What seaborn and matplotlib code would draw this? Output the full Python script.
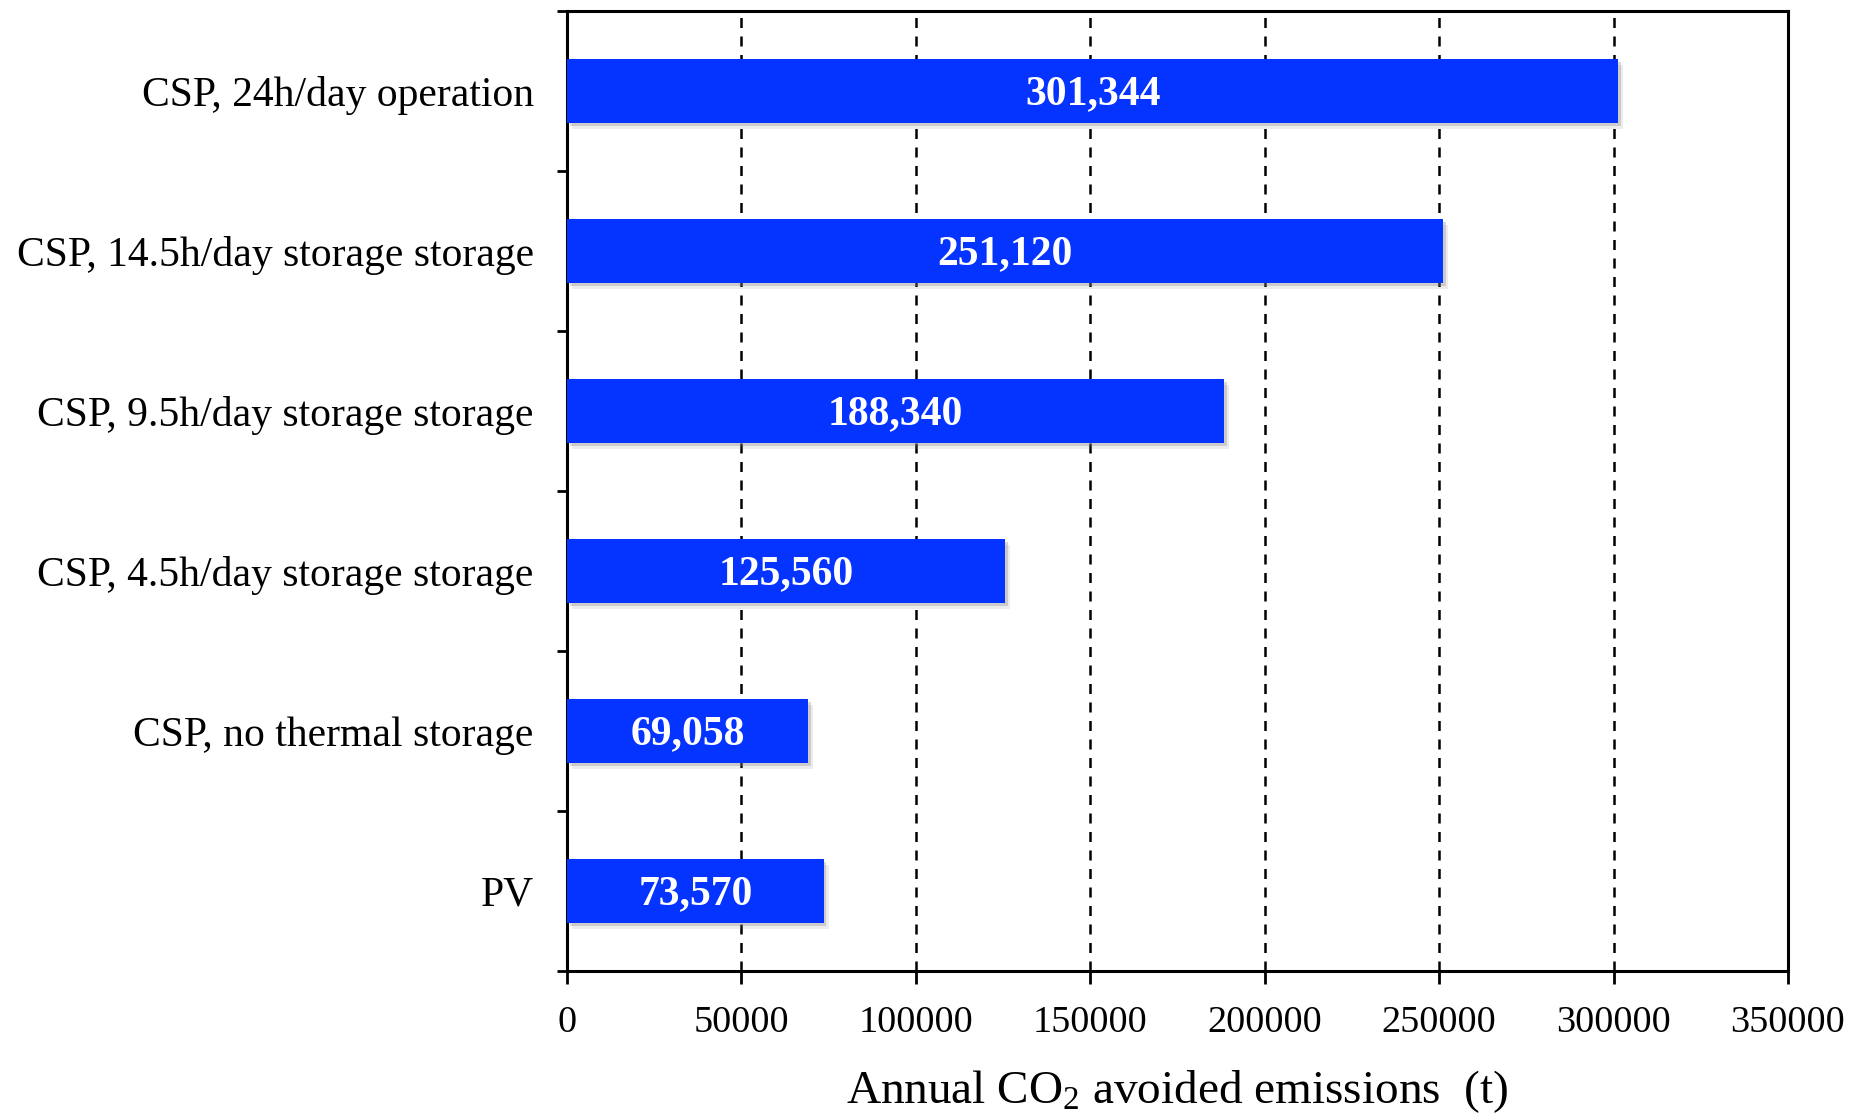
import matplotlib
matplotlib.use("Agg")
import matplotlib.pyplot as plt
import matplotlib.patheffects as pe
import seaborn as sns
import numpy as np
import pandas as pd

categories = [
    "CSP, 24h/day operation",
    "CSP, 14.5h/day storage storage",
    "CSP, 9.5h/day storage storage",
    "CSP, 4.5h/day storage storage",
    "CSP, no thermal storage",
    "PV",
]
values = [301344, 251120, 188340, 125560, 69058, 73570]
value_labels = ["301,344", "251,120", "188,340", "125,560", "69,058", "73,570"]
xticks = [0, 50000, 100000, 150000, 200000, 250000, 300000, 350000]

sns.set_style("white")
plt.rcParams["font.family"] = ["Liberation Serif", "DejaVu Serif"]
plt.rcParams["mathtext.fontset"] = "custom"
plt.rcParams["mathtext.rm"] = "Liberation Serif"
plt.rcParams["mathtext.default"] = "regular"
plt.rcParams["text.color"] = "black"
plt.rcParams["axes.labelcolor"] = "black"
plt.rcParams["xtick.color"] = "black"
plt.rcParams["ytick.color"] = "black"

df = pd.DataFrame({"cat": categories, "val": values})

fig = plt.figure(figsize=(18.65, 11.16), dpi=100)
ax = fig.add_axes([567/1865, 1 - 971/1116, (1788-567)/1865, (971-11)/1116])

sns.barplot(data=df, x="val", y="cat", orient="h", color="#0533FF",
            saturation=1, width=0.4, ax=ax, zorder=3, linewidth=0)

for p in ax.patches:
    p.set_path_effects([
        pe.SimplePatchShadow(offset=(3.5, -4), shadow_rgbFace="gray", alpha=0.15),
        pe.SimplePatchShadow(offset=(2, -2.5), shadow_rgbFace="gray", alpha=0.3),
        pe.Normal()])

for i, (v, lab) in enumerate(zip(values, value_labels)):
    ax.text(v / 2, i + 0.02, lab, ha="center", va="center", color="white",
            fontsize=30, fontweight="bold", zorder=5)

ax.set_xlim(0, 350000)
ax.set_ylim(5.5, -0.5)
ax.set_xticks(xticks)
ax.set_xticklabels([str(t) for t in xticks])
for t in xticks[1:-1]:
    ax.axvline(t, color="black", lw=1.8, ls=(0, (4, 3.4)), zorder=1)

ax.set_yticks(range(len(categories)))
ax.set_yticklabels(categories)
ax.set_yticks(np.arange(-0.5, len(categories), 1.0), minor=True)
ax.tick_params(axis="y", which="major", length=0, pad=24, labelsize=30)
ax.tick_params(axis="y", which="minor", length=7, width=2, direction="out", left=True)
ax.tick_params(axis="x", which="major", length=9, width=2, direction="out",
               bottom=True, pad=16, labelsize=27.5)

ax.set_ylabel("")
ax.set_xlabel(r"Annual CO$_2$ avoided emissions  (t)", fontsize=34, labelpad=20)

for s in ax.spines.values():
    s.set_visible(True)
    s.set_color("black")
    s.set_linewidth(2.2)

fig.savefig("out.png", dpi=100)
